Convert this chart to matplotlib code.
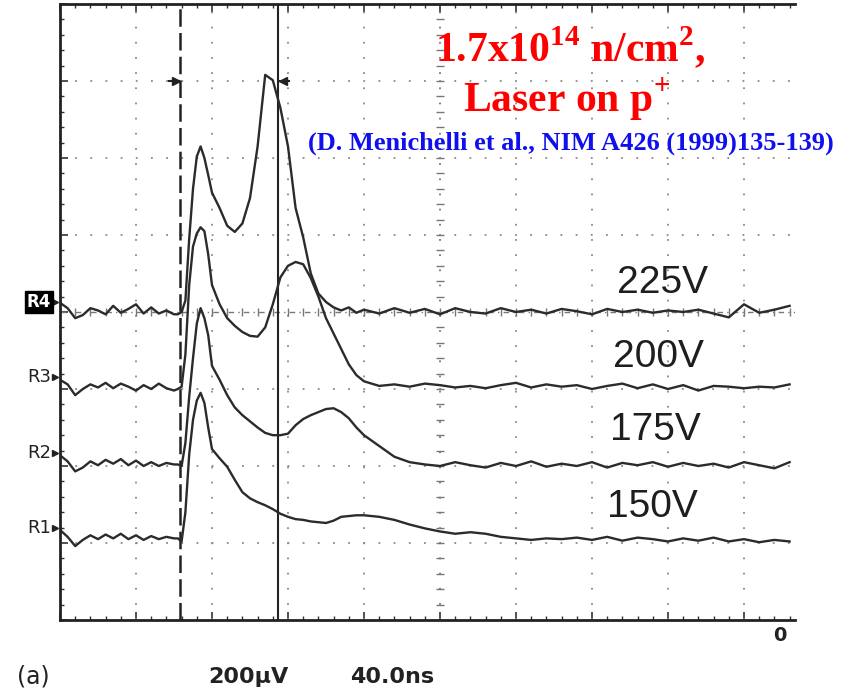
import matplotlib
matplotlib.use('Agg')
import matplotlib.pyplot as plt
import numpy as np

# 1. Data in graticule divisions
# (horizontal 40.0 ns/div, vertical 200 uV/div, offsets as on the screen)
t_div = [0.0, 0.1, 0.2, 0.3, 0.4, 0.5, 0.6, 0.7, 0.8, 0.9, 1.0, 1.1, 1.2, 1.3, 1.4, 1.5,
         1.55, 1.6, 1.65, 1.7, 1.75, 1.8, 1.85, 1.9, 1.95, 2.0,
         2.1, 2.2, 2.3, 2.4, 2.5, 2.6, 2.7, 2.8, 2.9, 3.0, 3.1, 3.2, 3.3, 3.4, 3.5,
         3.6, 3.7, 3.8, 3.9, 4.0,
         4.2, 4.4, 4.6, 4.8, 5.0, 5.2, 5.4, 5.6, 5.8, 6.0, 6.2, 6.4, 6.6, 6.8,
         7.0, 7.2, 7.4, 7.6, 7.8, 8.0, 8.2, 8.4, 8.6, 8.8, 9.0, 9.2, 9.4, 9.6]

r4_225V = [4.12, 4.05, 3.92, 3.96, 4.05, 4.02, 3.97, 4.08, 3.99, 4.04, 4.10, 3.98, 4.06, 3.98, 4.02, 3.97,
           3.97, 4.00, 4.15, 4.95, 5.60, 6.02, 6.15, 6.00, 5.78, 5.55,
           5.35, 5.12, 5.04, 5.15, 5.48, 6.15, 7.08, 7.01, 6.65, 6.15, 5.35, 4.97, 4.50, 4.24, 4.13,
           4.06, 4.02, 4.06, 3.99, 4.03,
           3.98, 4.05, 3.99, 4.04, 3.97, 4.05, 4.00, 3.98, 4.05, 4.00, 4.03, 3.98, 4.04, 4.01,
           3.97, 4.04, 4.00, 4.03, 3.99, 4.02, 4.00, 4.03, 3.98, 3.93, 4.10, 3.99, 4.03, 4.08]

r3_200V = [3.12, 3.06, 2.92, 3.00, 3.06, 3.02, 3.08, 3.01, 3.07, 3.03, 2.98, 3.05, 3.00, 3.07, 3.01, 2.98,
           3.00, 3.03, 3.45, 4.35, 4.85, 5.02, 5.10, 5.05, 4.75, 4.35,
           4.10, 3.92, 3.82, 3.74, 3.69, 3.68, 3.80, 4.10, 4.45, 4.60, 4.65, 4.62, 4.44, 4.20, 3.92,
           3.72, 3.52, 3.32, 3.18, 3.10,
           3.04, 3.06, 3.03, 3.07, 3.05, 3.02, 3.04, 3.01, 3.05, 3.08, 3.02, 3.06, 3.03, 3.05,
           3.00, 3.04, 3.07, 3.01, 3.06, 3.00, 3.05, 2.98, 3.04, 3.03, 3.01, 3.03, 3.02, 3.06]

r2_175V = [2.14, 2.06, 1.93, 1.98, 2.06, 2.01, 2.08, 2.03, 2.09, 2.01, 2.07, 2.00, 2.05, 2.00, 2.04, 2.02,
           2.02, 2.00, 2.30, 2.90, 3.40, 3.85, 4.05, 3.92, 3.70, 3.30,
           3.12, 2.92, 2.76, 2.66, 2.58, 2.50, 2.43, 2.40, 2.40, 2.42, 2.53, 2.61, 2.66, 2.70, 2.74,
           2.75, 2.70, 2.62, 2.50, 2.40,
           2.26, 2.12, 2.05, 2.02, 2.00, 2.05, 2.01, 1.98, 2.04, 2.00, 2.06, 1.99, 2.03, 2.00,
           2.05, 1.98, 2.04, 2.01, 2.05, 1.99, 2.04, 2.00, 2.03, 1.98, 2.05, 2.01, 1.97, 2.05]

r1_150V = [1.17, 1.08, 0.96, 1.04, 1.10, 1.05, 1.11, 1.06, 1.12, 1.05, 1.10, 1.04, 1.09, 1.05, 1.08, 1.06,
           1.06, 1.02, 1.40, 2.15, 2.60, 2.85, 2.95, 2.82, 2.50, 2.22,
           2.10, 1.99, 1.82, 1.66, 1.58, 1.53, 1.49, 1.44, 1.38, 1.34, 1.31, 1.30, 1.28, 1.27, 1.26,
           1.29, 1.34, 1.35, 1.36, 1.36,
           1.34, 1.30, 1.24, 1.19, 1.15, 1.12, 1.14, 1.12, 1.08, 1.06, 1.04, 1.06, 1.05, 1.07,
           1.04, 1.08, 1.03, 1.07, 1.05, 1.02, 1.06, 1.03, 1.07, 1.02, 1.05, 1.01, 1.04, 1.02]

traces = [r4_225V, r3_200V, r2_175V, r1_150V]
voltage_labels = ['225V', '200V', '175V', '150V']
label_x = [7.33, 7.28, 7.24, 7.20]
label_y = [4.38, 3.42, 2.47, 1.47]
channels = ['R4', 'R3', 'R2', 'R1']
channel_y = [4.13, 3.16, 2.17, 1.19]
cursor_dashed = 1.58
cursor_solid = 2.87

# 2. Figure and graticule
plt.rcParams['mathtext.fontset'] = 'custom'
plt.rcParams['mathtext.rm'] = 'Liberation Serif:bold'
plt.rcParams['mathtext.bf'] = 'Liberation Serif:bold'

fig = plt.figure(figsize=(8.5, 6.9), dpi=100)
ax = fig.add_axes([60 / 850, 70 / 690, 735 / 850, 616 / 690])
x_max = 735 / 76
ax.set_xlim(0, x_max)
ax.set_ylim(0, 8)

for side in ['left', 'top', 'bottom']:
    ax.spines[side].set_linewidth(2)
    ax.spines[side].set_color('#222222')
ax.spines['right'].set_visible(False)

ax.set_xticks(range(0, 10))
ax.set_yticks(range(0, 9))
ax.set_xticks(np.arange(0, x_max, 0.2), minor=True)
ax.set_yticks(np.arange(0, 8.01, 0.2), minor=True)
ax.tick_params(which='both', direction='in', top=True, bottom=True, left=True, right=False,
               labelbottom=False, labelleft=False, color='#333333')
ax.tick_params(which='major', length=6, width=1.2)
ax.tick_params(which='minor', length=3, width=1)

dots = (0, (1, 7.4))
ax.vlines([1, 2, 3, 4, 6, 7, 8, 9], 0, 8, colors='#8a8a8a', linestyles=dots, lw=1.3)
ax.hlines([1, 2, 3, 5, 6, 7], 0, x_max, colors='#8a8a8a', linestyles=dots, lw=1.3)

# center axes with small division marks
ax.vlines(5, 0, 8, colors='#777777', linestyles=dots, lw=1.3)
ax.hlines(4, 0, x_max, colors='#777777', linestyles=(0, (4, 3, 1, 3)), lw=1.0)
marks = np.arange(0, x_max, 0.2)
ax.plot(marks, [4] * len(marks), ls='none', marker='|', ms=6, mew=1, color='#777777')
vmarks = np.arange(0, 8.01, 0.2)
ax.plot([5] * len(vmarks), vmarks, ls='none', marker='_', ms=6, mew=1, color='#777777')

# cursors
ax.axvline(cursor_dashed, color='#222222', lw=1.8, ls=(0, (7, 2.5)))
ax.axvline(cursor_solid, color='#222222', lw=1.5)
ax.plot([cursor_dashed - 0.14, cursor_dashed - 0.02], [7, 7], color='#222222', lw=1.5)
ax.plot([cursor_dashed - 0.06], [7], marker='>', ms=6, color='#222222')
ax.plot([cursor_solid + 0.02, cursor_solid + 0.14], [7, 7], color='#222222', lw=1.5)
ax.plot([cursor_solid + 0.06], [7], marker='<', ms=6, color='#222222')

# 3. Traces
for y in traces:
    ax.plot(t_div, y, color='#2b2b2b', lw=1.7, solid_joinstyle='round')

for lab, x, y in zip(voltage_labels, label_x, label_y):
    ax.text(x, y, lab, fontsize=28, family='Liberation Sans', color='#1e1e1e',
            ha='left', va='center')

for name, y in zip(channels, channel_y):
    if name == 'R4':
        ax.text(-0.12, y, name, ha='right', va='center', fontsize=12, weight='bold',
                color='white', clip_on=False,
                bbox=dict(facecolor='black', edgecolor='black', pad=1.2))
    else:
        ax.text(-0.12, y, name, ha='right', va='center', fontsize=13,
                color='#222222', clip_on=False)
    ax.plot([-0.06], [y], marker='>', ms=5, color='#222222', clip_on=False)

ax.text(9.47, -0.2, '0', ha='center', va='center', fontsize=14, weight='bold',
        color='#222222', clip_on=False)

# 4. Annotations
fig.text(17 / 850, 0.019, '(a)', fontsize=17, color='#222222', va='center')
fig.text(208 / 850, 0.019, '200\u00b5V', fontsize=16, weight='bold', color='#222222', va='center')
fig.text(350 / 850, 0.019, '40.0ns', fontsize=16, weight='bold', color='#222222', va='center')

fig.text(0.671, 0.910, r'1.7x10$^{\mathrm{14}}$ n/cm$^{\mathrm{2}}$,', fontsize=30,
         family='Liberation Serif', weight='bold', color='red', ha='center', va='baseline')
fig.text(0.666, 0.838, r'Laser on p$^{\mathrm{+}}$', fontsize=30,
         family='Liberation Serif', weight='bold', color='red', ha='center', va='baseline')
fig.text(0.672, 0.783, '(D. Menichelli et al., NIM A426 (1999)135-139)', fontsize=19,
         family='Liberation Serif', weight='bold', color='#1010ee', ha='center', va='baseline')

fig.savefig('out.png', dpi=100)
